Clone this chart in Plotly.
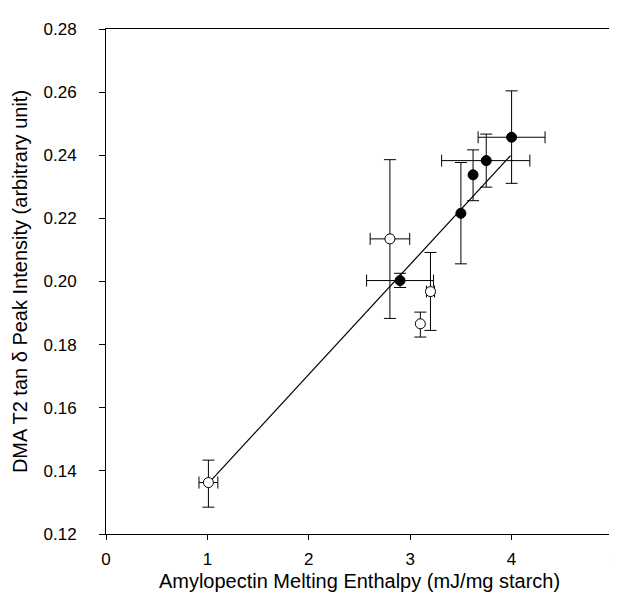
import plotly.graph_objects as go

# Filled circles (series 1)
filled_x = [2.90, 3.50, 3.62, 3.75, 4.00]
filled_y = [0.2003, 0.2216, 0.2338, 0.2383, 0.2457]
filled_yerr_plus = [0.0023, 0.0161, 0.0079, 0.0084, 0.0147]
filled_yerr_minus = [0.0022, 0.0160, 0.0082, 0.0084, 0.0146]
filled_xerr_plus = [0.33, None, None, 0.43, 0.33]
filled_xerr_minus = [0.33, None, None, 0.44, 0.33]

# Open circles (series 2)
open_x = [1.01, 2.80, 3.10, 3.20]
open_y = [0.1363, 0.2135, 0.1866, 0.1968]
open_yerr_plus = [0.0071, 0.0251, 0.0037, 0.0124]
open_yerr_minus = [0.0078, 0.0252, 0.0042, 0.0123]
open_xerr = [0.093, 0.195, None, 0.04]

# Regression line
fit_x = [1.0, 3.99]
fit_y = [0.1357, 0.2399]

x_ticks = [0, 1, 2, 3, 4, 5]
y_ticks = [0.12, 0.14, 0.16, 0.18, 0.20, 0.22, 0.24, 0.26, 0.28]

FONT = "Liberation Sans, Arial, sans-serif"

fig = go.Figure()
fig.add_trace(go.Scatter(x=fit_x, y=fit_y, mode="lines",
                         line=dict(color="black", width=1.2),
                         showlegend=False, hoverinfo="skip"))

def add_point(x, y, yp, ym, xp, xm, filled):
    kw = {}
    if xp is not None:
        kw["error_x"] = dict(type="data", symmetric=False, array=[xp], arrayminus=[xm],
                             color="black", thickness=1, width=6)
    fig.add_trace(go.Scatter(
        x=[x], y=[y], mode="markers",
        marker=dict(size=10, color="black" if filled else "white",
                    line=dict(color="black", width=1)),
        error_y=dict(type="data", symmetric=False, array=[yp], arrayminus=[ym],
                     color="black", thickness=1, width=6),
        showlegend=False, **kw))

for i in range(len(open_x)):
    add_point(open_x[i], open_y[i], open_yerr_plus[i], open_yerr_minus[i],
              open_xerr[i], open_xerr[i], False)
for i in range(len(filled_x)):
    add_point(filled_x[i], filled_y[i], filled_yerr_plus[i], filled_yerr_minus[i],
              filled_xerr_plus[i], filled_xerr_minus[i], True)

fig.update_layout(
    width=617, height=597,
    margin=dict(l=98, r=7, t=21, b=71),
    plot_bgcolor="white", paper_bgcolor="white",
    font=dict(family=FONT, color="black", size=16),
    showlegend=False,
    xaxis=dict(range=[0, 5], tickvals=x_ticks, ticks="outside", ticklen=5,
               tickcolor="black", showline=True, linecolor="black", linewidth=1,
               mirror=True, showgrid=False, zeroline=False,
               tickfont=dict(size=17), ticklabelstandoff=5,
               ticklabeloverflow="allow",
               title=dict(text="Amylopectin Melting Enthalpy (mJ/mg starch)",
                          font=dict(size=20), standoff=5)),
    yaxis=dict(range=[0.12, 0.28], tickvals=y_ticks, tickformat=".2f",
               ticks="outside", ticklen=6, tickcolor="black",
               showline=True, linecolor="black", linewidth=1, mirror=True,
               showgrid=False, zeroline=False, tickfont=dict(size=17),
               ticklabelstandoff=19,
               title=dict(text="DMA T2 tan δ Peak Intensity (arbitrary unit)",
                          font=dict(size=20), standoff=10)),
)

fig.write_html("out.html")
